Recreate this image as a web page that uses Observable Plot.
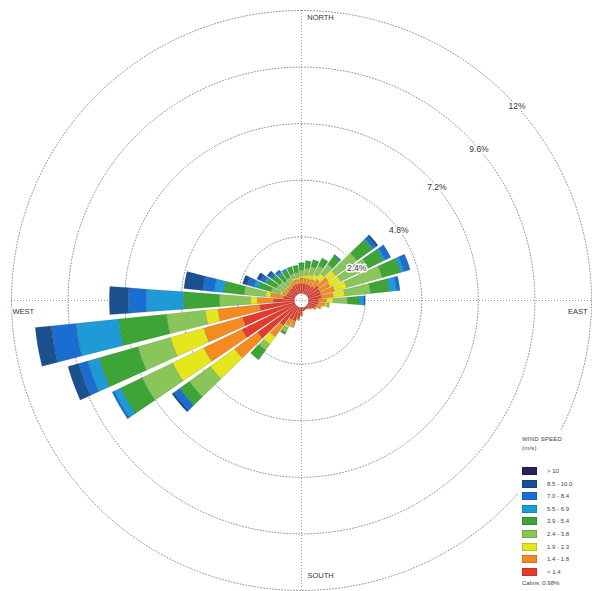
<!DOCTYPE html>
<html>
<head>
<meta charset="utf-8">
<script src="https://cdn.jsdelivr.net/npm/d3@7"></script>
<script src="https://cdn.jsdelivr.net/npm/@observablehq/plot@0.6"></script>
<style>
  body { margin: 0; background: #fff; font-family: "Liberation Sans", Arial, sans-serif; }
  #wrap { position: relative; width: 596px; height: 591px; }
  #legend { position: absolute; left: 518px; top: 431px; width: 76px; height: 158px; background: #fff; color: #444; font-size: 6px; }
  #legend .ttl { position: absolute; left: 4px; top: 4px; line-height: 9px; letter-spacing: 0.2px; }
  #legend .row { position: absolute; left: 4px; height: 9px; }
  #legend .sw { position: absolute; left: 0; top: 0; width: 15px; height: 8px; box-shadow: inset 0 0 0 0.5px rgba(0,0,0,0.3); }
  #legend .lb { position: absolute; left: 25px; top: 0; line-height: 8px; white-space: nowrap; }
  #legend .calm { position: absolute; left: 4px; top: 149px; white-space: nowrap; }
</style>
</head>
<body>
<div id="wrap"><div id="chart"></div><div id="legend"></div></div>
<script>
// ---- data ----
const directions = d3.range(0, 360, 10); // degrees, 0 = north
const speedClasses = ["< 1.4", "1.4 - 1.8", "1.9 - 2.3", "2.4 - 3.8", "3.9 - 5.4", "5.5 - 6.9", "7.0 - 8.4", "8.5 - 10.0", "> 10"];
const classColors = ["#e53b2c", "#f38b20", "#e5e61c", "#88c65a", "#3ca536", "#1e9ad6", "#1a6ed2", "#1b4f8e", "#2d1f5e"];
// frequency (%) per direction (0,10,...,350) for each speed class
const fRed    = [0.40,0.40,0.40,0.40,0.45,0.60,0.55,0.55,0.55,0.40,0.40,0.35,0.30,0.20,0.15,0.12,0.12,0.15,0.30,0.45,0.60,0.60,1.00,2.00,2.50,2.30,1.48,0.89,0.47,0.35,0.35,0.35,0.35,0.40,0.40,0.40];
const fOrange = [0.25,0.25,0.25,0.30,0.35,0.50,0.50,0.60,0.50,0.35,0.30,0.20,0.10,0.05,0,0,0,0,0.05,0.10,0.20,0.30,0.60,1.20,1.80,1.70,1.78,0.68,0.55,0.20,0.15,0.15,0.15,0.15,0.20,0.20];
const fYellow = [0.10,0.15,0.20,0.25,0.30,0.40,0.50,0.55,0.50,0.30,0.10,0.05,0,0,0,0,0,0,0,0,0.05,0.10,0.40,1.27,1.48,1.48,0.55,0.30,0.21,0.10,0.05,0.05,0.05,0.05,0.10,0.10];
const fLGreen = [0.25,0.30,0.35,0.40,0.50,1.10,1.30,1.57,1.10,0.60,0.10,0,0,0,0,0,0,0,0,0,0.05,0.20,0.30,1.10,1.44,1.44,1.65,1.31,0.93,0.40,0.35,0.30,0.20,0.20,0.20,0.20];
const fGreen  = [0.30,0.30,0.30,0.35,0.45,0.80,0.70,0.80,0.80,0.50,0,0,0,0,0,0,0,0,0,0,0,0.10,0.50,0.50,1.00,1.70,2.03,1.53,0.85,0.55,0.45,0.40,0.35,0.30,0.30,0.30];
const fLBlue  = [0,0,0,0,0,0.05,0.10,0.15,0.30,0.20,0,0,0,0,0,0,0,0,0,0,0,0,0,0,0.30,0.50,1.82,1.57,0.40,0.20,0.10,0,0.10,0.10,0,0];
const fBlue   = [0,0,0,0,0.05,0.15,0.25,0.27,0.15,0.05,0,0,0,0,0,0,0,0,0,0,0,0,0,0.30,0.10,0.40,1.06,0.76,0.50,0.30,0.20,0.15,0.10,0,0,0];
const fDBlue  = [0,0,0,0,0,0.10,0,0,0,0,0,0,0,0,0,0,0,0,0,0,0,0,0,0.10,0,0.47,0.68,0.81,0.80,0.20,0.15,0.10,0,0,0,0];
const fPurple = [0,0,0,0,0,0,0,0,0,0,0,0,0,0,0,0,0,0,0,0,0,0,0,0,0,0,0,0,0,0,0,0,0,0,0,0];
const ringTicks = [2.4, 4.8, 7.2, 9.6, 12];
const ringLabels = ["2.4%", "4.8%", "7.2%", "9.6%", "12%"];
const compass = ["NORTH", "EAST", "SOUTH", "WEST"];
const calmText = "Calms: 0.98%";

// ---- geometry / layout constants ----
const CALM_R = 0.3;          // calm circle radius in % units
const RMAX = 12 + CALM_R;    // outer ring
const HALF = 4.2;            // half wedge width (deg)
const labelAngles = [60, 54, 50, 49.5, 48];
const series = [fRed, fOrange, fYellow, fLGreen, fGreen, fLBlue, fBlue, fDBlue, fPurple];
const polar = (r, a) => ({x: r * Math.sin(a * Math.PI / 180), y: r * Math.cos(a * Math.PI / 180)});

const segPts = [];
directions.forEach((dir, i) => {
  let cum = 0;
  series.forEach((arr, k) => {
    const v = arr[i];
    if (v > 0) {
      const r0 = CALM_R + cum, r1 = CALM_R + cum + v;
      const id = dir + "-" + k;
      const pts = [];
      for (let a = dir - HALF; a <= dir + HALF + 1e-9; a += 0.6) pts.push(polar(r1, a));
      pts.push(polar(r1, dir + HALF));
      for (let a = dir + HALF; a >= dir - HALF - 1e-9; a -= 0.6) pts.push(polar(r0, a));
      pts.push(polar(r0, dir - HALF));
      pts.push(polar(r1, dir - HALF));
      pts.forEach(p => segPts.push({...p, id, cls: speedClasses[k]}));
    }
    cum += v;
  });
});

const ringPts = [];
ringTicks.forEach(t => {
  for (let a = 0; a <= 360; a += 1) ringPts.push({...polar(t + CALM_R, a), t});
});
const labelPos = ringTicks.map((t, i) => ({...polar(t + CALM_R, labelAngles[i]), label: ringLabels[i]}));
const compassPos = [
  {x: 0, y: RMAX, label: compass[0]},
  {x: RMAX, y: 0, label: compass[1]},
  {x: 0, y: -RMAX, label: compass[2]},
  {x: -RMAX, y: 0, label: compass[3]}
];
const txt = {x: "x", y: "y", text: "label", fontSize: 7.5, fill: "#333", stroke: "white", strokeWidth: 3};

const chart = Plot.plot({
  width: 596, height: 591,
  marginLeft: 11, marginRight: 5, marginTop: 10, marginBottom: 1,
  x: {domain: [-RMAX, RMAX], axis: null},
  y: {domain: [-RMAX, RMAX], axis: null},
  color: {domain: speedClasses, range: classColors},
  style: {fontFamily: "Liberation Sans, Arial, sans-serif", background: "#fff"},
  marks: [
    Plot.ruleX([0], {stroke: "#999", strokeDasharray: "1,2", strokeWidth: 1}),
    Plot.ruleY([0], {stroke: "#999", strokeDasharray: "1,2", strokeWidth: 1}),
    Plot.line(ringPts, {x: "x", y: "y", z: "t", stroke: "#959595", strokeWidth: 1, strokeDasharray: "1,2", curve: "linear"}),
    Plot.line(segPts, {x: "x", y: "y", z: "id", fill: "cls", stroke: "rgba(40,40,40,0.3)", strokeWidth: 0.5, curve: "linear"}),
    Plot.text(labelPos, {...txt, fontSize: 8.5}),
    Plot.text(compassPos.filter(d => d.label === "NORTH"), {...txt, textAnchor: "middle", dx: 19, dy: 7}),
    Plot.text(compassPos.filter(d => d.label === "SOUTH"), {...txt, textAnchor: "middle", dx: 19, dy: -15}),
    Plot.text(compassPos.filter(d => d.label === "WEST"), {...txt, textAnchor: "start", dx: 1, dy: 11}),
    Plot.text(compassPos.filter(d => d.label === "EAST"), {...txt, textAnchor: "end", dx: -4, dy: 11})
  ]
});
document.getElementById("chart").appendChild(chart);

// ---- legend ----
const lg = document.getElementById("legend");
let html = '<div class="ttl">WIND SPEED<br>(m/s)</div>';
const order = speedClasses.map((c, i) => i).reverse();
order.forEach((k, j) => {
  const top = 36 + j * 12.6;
  html += `<div class="row" style="top:${top}px"><div class="sw" style="background:${classColors[k]}"></div><div class="lb">${speedClasses[k]}</div></div>`;
});
html += `<div class="calm">${calmText}</div>`;
lg.innerHTML = html;
</script>
</body>
</html>
